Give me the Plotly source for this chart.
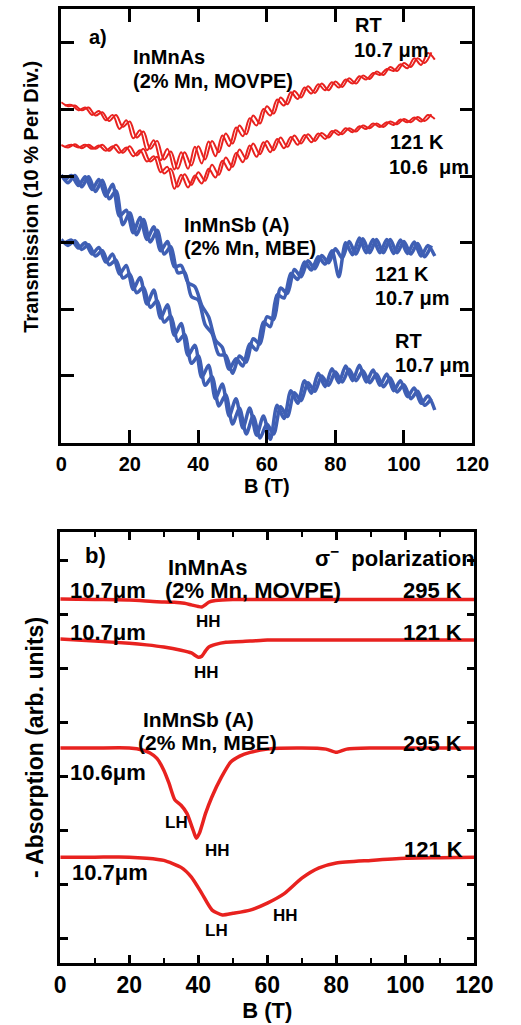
import plotly.graph_objects as go

# ---------------- Panel a: transmission (% , 10 % per division) ----------------
B_even = [0, 2, 4, 6, 8, 10, 12, 14, 16, 18, 20, 22, 24, 26, 28, 30, 32, 34, 36, 38,
          40, 42, 44, 46, 48, 50, 52, 54, 56, 58, 60, 62, 64, 66, 68, 70, 72, 74, 76, 78,
          80, 82, 84, 86, 88, 90, 92, 94, 96, 98, 100, 102, 104, 106, 108]
B_odd = [1, 3, 5, 7, 9, 11, 13, 15, 17, 19, 21, 23, 25, 27, 29, 31, 33, 35, 37, 39,
         41, 43, 45, 47, 49, 51, 53, 55, 57, 59, 61, 63, 65, 67, 69, 71, 73, 75, 77, 79,
         81, 83, 85, 87, 89, 91, 93, 95, 97, 99, 101, 103, 105, 107, 109]

inmnas_rt_up = [51.1, 50.5, 50.6, 49.9, 50.3, 49.1, 49.6, 48.3, 49.2, 47.4, 48.2, 45.8, 46.7, 44.1,
                45.3, 42.5, 43.7, 41.1, 43.6, 41.6, 44.5, 42.5, 45.3, 43.6, 46.4, 44.9, 47.6, 46.3,
                49.1, 47.9, 50.5, 49.4, 51.8, 50.8, 52.8, 51.8, 53.5, 52.5, 53.9, 52.9, 54.2, 53.4,
                54.7, 53.9, 55.1, 54.6, 55.7, 55.2, 56.4, 55.8, 57.0, 56.4, 57.7, 57.0, 58.6]
inmnas_rt_down = [50.6, 50.7, 49.9, 50.3, 49.2, 49.8, 48.4, 49.2, 47.1, 48.4, 45.7, 46.9, 43.9, 45.4,
                  42.4, 44.1, 41.0, 43.6, 41.1, 44.4, 41.9, 45.2, 43.0, 46.1, 44.5, 47.3, 46.0, 48.7,
                  47.6, 50.1, 49.1, 51.5, 50.6, 52.6, 51.6, 53.3, 52.4, 53.8, 52.9, 54.1, 53.3, 54.5,
                  53.9, 55.0, 54.5, 55.5, 55.2, 56.1, 55.8, 56.8, 56.2, 57.7, 56.7, 58.5, 57.5]
inmnas_121_up = [44.7, 44.3, 44.8, 44.2, 44.7, 44.1, 44.7, 43.8, 44.7, 43.5, 44.5, 43.1, 44.1, 42.2,
                 42.9, 40.4, 41.1, 38.4, 40.3, 38.7, 40.6, 39.3, 41.7, 40.2, 42.8, 41.4, 44.0, 42.6,
                 44.9, 43.3, 45.3, 43.9, 45.8, 44.4, 46.1, 44.9, 46.3, 45.3, 46.5, 45.8, 46.9, 46.3,
                 47.2, 46.7, 47.6, 47.2, 47.9, 47.4, 48.2, 47.8, 48.6, 48.1, 48.9, 48.3, 49.3]
inmnas_121_down = [44.4, 44.7, 44.3, 44.7, 44.1, 44.6, 43.8, 44.5, 43.5, 44.3, 43.0, 43.9, 42.2, 43.0,
                   40.6, 41.4, 38.1, 40.2, 38.3, 40.1, 38.9, 41.1, 39.8, 42.3, 40.9, 43.5, 42.1, 44.6,
                   42.9, 45.1, 43.6, 45.6, 44.2, 45.9, 44.7, 46.2, 45.1, 46.4, 45.6, 46.8, 46.2, 47.2,
                   46.6, 47.5, 47.1, 47.9, 47.4, 48.1, 47.7, 48.5, 48.1, 48.8, 48.2, 49.2, 48.6]
inmnsb_121_up = [40.2, 39.0, 40.1, 38.4, 39.9, 37.7, 39.4, 36.6, 37.8, 32.7, 34.5, 31.2, 33.5, 30.1,
                 31.9, 28.3, 29.4, 25.5, 25.6, 21.9, 21.4, 17.7, 16.4, 13.2, 13.1, 10.4, 13.0, 12.1,
                 15.6, 14.8, 18.9, 18.5, 23.2, 22.4, 26.0, 24.9, 27.3, 26.1, 28.1, 27.0, 29.1, 27.7,
                 30.2, 28.3, 30.6, 28.5, 30.5, 28.5, 30.5, 28.5, 30.2, 28.3, 29.9, 27.9, 29.6]
inmnsb_121_down = [39.3, 40.1, 38.6, 39.9, 38.0, 39.5, 37.0, 38.8, 34.0, 34.9, 31.5, 33.8, 30.5, 32.4,
                   28.8, 30.2, 26.4, 26.6, 24.0, 23.4, 20.6, 18.9, 15.4, 14.3, 11.0, 12.6, 11.5, 14.8,
                   13.9, 18.1, 17.4, 22.2, 21.7, 25.4, 24.5, 27.1, 25.9, 27.9, 26.8, 28.8, 24.9, 30.0,
                   28.2, 30.7, 28.5, 30.5, 28.5, 30.5, 28.4, 30.4, 28.4, 30.1, 28.0, 29.6, 28.0]
inmnsb_rt_up = [30.5, 29.6, 30.3, 29.0, 29.7, 28.0, 28.8, 26.7, 27.4, 24.7, 25.3, 22.5, 23.3, 20.3,
                21.3, 18.1, 19.0, 15.2, 16.2, 11.9, 13.0, 8.6, 9.9, 5.5, 7.2, 2.8, 5.2, 1.3,
                4.0, 0.7, 2.8, 1.3, 5.4, 3.9, 7.5, 6.3, 9.0, 7.7, 10.0, 8.6, 10.6, 9.1,
                11.0, 9.3, 10.8, 9.0, 10.3, 8.4, 9.7, 7.6, 8.7, 6.6, 7.7, 5.6, 6.6]
inmnsb_rt_down = [29.9, 30.4, 29.2, 30.0, 28.3, 29.3, 27.1, 28.3, 25.3, 26.6, 23.0, 24.8, 20.8, 22.9,
                  18.7, 20.7, 16.1, 17.9, 13.1, 14.6, 9.8, 11.6, 6.6, 8.8, 4.0, 6.6, 2.2, 5.2,
                  1.1, 4.0, 0.5, 5.6, 3.6, 7.8, 5.9, 9.3, 7.4, 10.4, 8.4, 11.1, 9.0, 11.5,
                  9.3, 11.6, 9.1, 10.9, 8.6, 10.3, 7.8, 9.3, 6.9, 8.2, 5.9, 7.0, 4.9]

# ---------------- Panel b: - absorption (arb. units) ----------------
B_as295 = [0, 10, 20, 28, 33, 36, 38, 40, 41, 42, 43, 45, 50, 60, 70, 80, 90, 100, 110, 120]
abs_as295 = [6.28, 6.27, 6.26, 6.23, 6.22, 6.20, 6.17, 6.14, 6.13, 6.17, 6.22, 6.25, 6.27,
             6.27, 6.27, 6.27, 6.27, 6.27, 6.27, 6.27]
B_as121 = [0, 10, 20, 25, 30, 35, 38, 40, 41, 42, 43, 45, 48, 55, 60, 70, 80, 90, 100, 110, 120]
abs_as121 = [5.54, 5.50, 5.46, 5.43, 5.39, 5.33, 5.28, 5.20, 5.22, 5.31, 5.39, 5.44, 5.48,
             5.50, 5.52, 5.52, 5.52, 5.52, 5.52, 5.52, 5.52]
B_sb295 = [0, 10, 20, 24, 26, 28, 30, 31.5, 33.2, 35, 36.7, 38.5, 39.4, 40.3, 42.1, 43.9,
           46.7, 49.4, 52, 55, 60, 70, 77, 80, 83, 90, 100, 110, 120]
abs_sb295 = [3.52, 3.52, 3.52, 3.48, 3.43, 3.33, 3.11, 2.87, 2.56, 2.46, 2.31, 2.00, 1.85, 1.94,
             2.31, 2.61, 2.98, 3.26, 3.37, 3.44, 3.50, 3.52, 3.50, 3.44, 3.50, 3.52, 3.52, 3.52, 3.52]
B_sb121 = [0, 10, 20, 25, 30, 35, 38, 41, 44, 47, 50, 55, 60, 65, 70, 75, 80, 90, 100, 110, 120]
abs_sb121 = [1.50, 1.50, 1.50, 1.48, 1.44, 1.31, 1.13, 0.83, 0.52, 0.43, 0.46, 0.52, 0.65, 0.83,
             1.11, 1.30, 1.39, 1.44, 1.48, 1.49, 1.50]

x_ticks = [0, 20, 40, 60, 80, 100, 120]

RED = "#e8221f"
BLUE = "#3f5fb4"
FONT = "Liberation Sans, Arial, Helvetica, sans-serif"

fig = go.Figure()

for xs, ys in [(B_even, inmnas_rt_up), (B_odd, inmnas_rt_down),
               (B_even, inmnas_121_up), (B_odd, inmnas_121_down)]:
    fig.add_trace(go.Scatter(x=xs, y=ys, mode="lines",
                             line=dict(color=RED, width=2, shape="spline", smoothing=1.0),
                             xaxis="x", yaxis="y", showlegend=False, hoverinfo="skip"))
for xs, ys in [(B_even, inmnsb_121_up), (B_odd, inmnsb_121_down),
               (B_even, inmnsb_rt_up), (B_odd, inmnsb_rt_down)]:
    fig.add_trace(go.Scatter(x=xs, y=ys, mode="lines",
                             line=dict(color=BLUE, width=3.5, shape="spline", smoothing=0.8),
                             xaxis="x", yaxis="y", showlegend=False, hoverinfo="skip"))

for xs, ys in [(B_as295, abs_as295), (B_as121, abs_as121),
               (B_sb295, abs_sb295), (B_sb121, abs_sb121)]:
    fig.add_trace(go.Scatter(x=xs, y=ys, mode="lines",
                             line=dict(color=RED, width=3.5, shape="spline", smoothing=0.6),
                             xaxis="x2", yaxis="y2", showlegend=False, hoverinfo="skip"))

W, H = 521, 1025
def pxx(a, b):
    return [a / W, b / W]
def pxy(top, bottom):
    return [1 - bottom / H, 1 - top / H]

axis_common = dict(showline=True, linecolor="black", linewidth=2.5, mirror="allticks",
                   ticks="inside", tickcolor="black", tickwidth=2.5, showgrid=False,
                   zeroline=False)

fig.update_layout(
    width=W, height=H, margin=dict(l=0, r=0, t=0, b=0),
    paper_bgcolor="white", plot_bgcolor="white",
    font=dict(family=FONT, color="black"),
    xaxis=dict(domain=pxx(58, 490), anchor="y", range=[0, 120], tickvals=x_ticks,
               ticklen=13, ticklabelstandoff=2,
               tickfont=dict(family=FONT, size=20, weight="bold"),
               title=dict(text="B (T)", font=dict(family=FONT, size=20, weight="bold"),
                          standoff=0),
               **axis_common),
    yaxis=dict(domain=pxy(9, 442.6), anchor="x", range=[0, 65.1], dtick=10, tick0=0,
               ticklen=13, showticklabels=False,
               **axis_common),
    xaxis2=dict(domain=pxx(57, 492), anchor="y2", range=[0, 120], tickvals=x_ticks,
                ticklen=8, ticklabelstandoff=0,
                minor=dict(ticks="inside", dtick=10, tick0=0, ticklen=5, tickwidth=2,
                           tickcolor="black", showgrid=False),
                tickfont=dict(family=FONT, size=23, weight="bold"),
                title=dict(text="B (T)", font=dict(family=FONT, size=22, weight="bold"),
                           standoff=4),
                **axis_common),
    yaxis2=dict(domain=pxy(532, 963), anchor="x2", range=[-0.46, 7.52], dtick=1, tick0=0,
                ticklen=8, showticklabels=False,
                title=dict(text="- Absorption (arb. units)",
                           font=dict(family=FONT, size=23, weight="bold"), standoff=8),
                **axis_common),
)

# panel a y-axis title (placed to match the reference, centred above the domain middle)
fig.add_annotation(x=26 / W, y=1 - 197 / H, xref="paper", yref="paper",
                   text="Transmission (10 % Per Div.)", textangle=-90, showarrow=False,
                   xanchor="center", yanchor="middle",
                   font=dict(family=FONT, size=20, color="black", weight="bold"))

def ann(text, left, cy, size, panel, anchor="left"):
    if panel == "a":
        x = (left - 58) / 3.6
        y = (442.6 - cy) * 0.15015
        xr, yr = "x", "y"
    else:
        x = (left - 57) / 3.625
        y = (938 - cy) / 54.0
        xr, yr = "x2", "y2"
    fig.add_annotation(x=x, y=y, xref=xr, yref=yr, text=text, showarrow=False,
                       xanchor=anchor, yanchor="middle",
                       font=dict(family=FONT, size=size, color="black", weight="bold"))

# panel a labels
ann("a)", 85, 37, 20, "a")
ann("InMnAs", 131, 57, 20, "a")
ann("(2% Mn, MOVPE)", 131, 81, 20, "a")
ann("RT", 364, 25, 20, "a")
ann("10.7 μm", 363, 50, 20, "a")
ann("121 K", 401, 142, 20, "a")
ann("10.6  μm", 400, 167, 20, "a")
ann("InMnSb (A)", 185, 225, 20, "a")
ann("(2% Mn, MBE)", 185, 248, 20, "a")
ann("121 K", 385, 274, 20, "a")
ann("10.7 μm", 385, 298, 20, "a")
ann("RT", 406, 341, 20, "a")
ann("10.7 μm", 406, 365, 20, "a")

# panel b labels
ann("b)", 81, 555, 22, "b")
ann("InMnAs", 168, 567, 22, "b")
ann("σ<sup>−</sup>  polarization", 322, 557, 22, "b")
ann("10.7μm", 65, 590, 22, "b")
ann("(2% Mn, MOVPE)", 165, 590, 22, "b")
ann("295 K", 481, 590, 22, "b", anchor="right")
ann("HH", 197, 621, 17, "b")
ann("10.7μm", 65, 632, 22, "b")
ann("121 K", 481, 632, 22, "b", anchor="right")
ann("HH", 195, 672, 17, "b")
ann("InMnSb (A)", 142, 719, 21, "b")
ann("(2% Mn, MBE)", 137, 742, 21, "b")
ann("295 K", 481, 743, 22, "b", anchor="right")
ann("10.6μm", 65, 772, 22, "b")
ann("LH", 165, 822, 17, "b")
ann("HH", 207, 850, 17, "b")
ann("121 K", 482, 849, 22, "b", anchor="right")
ann("10.7μm", 67, 872, 22, "b")
ann("LH", 207, 930, 17, "b")
ann("HH", 278, 915, 17, "b")

fig.write_html("out.html")
